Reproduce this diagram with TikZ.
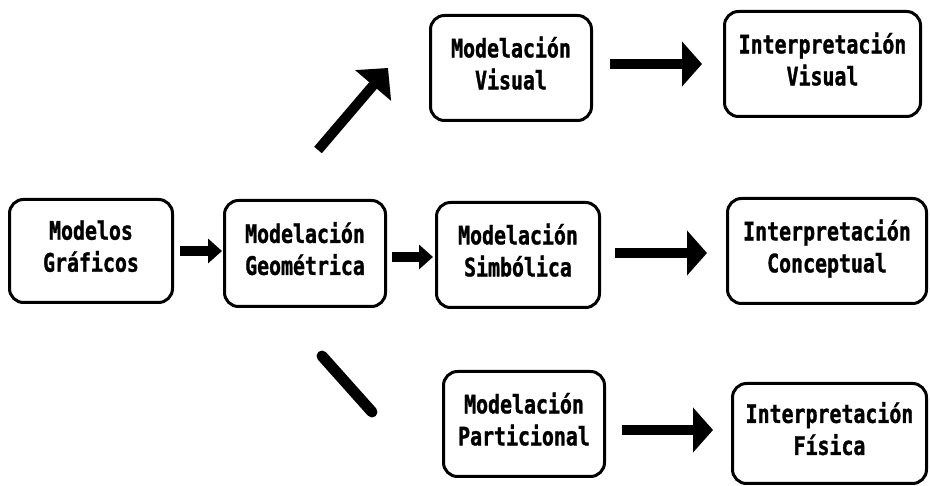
\documentclass[tikz,border=0pt]{standalone}
\usepackage{fontspec}
\newfontfamily\boxfont{DejaVu Sans Mono}[FakeStretch=0.78, BoldFeatures={FakeBold=1.2}]
\usetikzlibrary{arrows.meta}
\tikzset{
  box/.style={draw=black, line width=3pt, rounded corners=14pt, inner sep=0pt,
    text depth=10pt, align=center, font=\boxfont\bfseries\fontsize{25.5}{32}\selectfont},
  bigarrow/.style={line width=9.5pt, -{Triangle[length=20pt,width=44pt]}},
  smallarrow/.style={line width=9.5pt, -{Triangle[length=14pt,width=24pt]}},
}
\begin{document}
\begin{tikzpicture}[x=1pt, y=-1pt]
\useasboundingbox (0,0) rectangle (930,486);

% boxes
\node[box, minimum width=163pt, minimum height=103pt] (A) at (91,251) {Modelos\\Gráficos};
\node[box, minimum width=161pt, minimum height=106pt] (B) at (305,253.5) {Modelación\\Geométrica};
\node[box, minimum width=163pt, minimum height=105pt] (C) at (518,255) {Modelación\\Simbólica};
\node[box, minimum width=161pt, minimum height=105pt] (D) at (511,68) {Modelación\\Visual};
\node[box, minimum width=196pt, minimum height=105pt] (E) at (822.5,64) {Interpretación\\Visual};
\node[box, minimum width=199pt, minimum height=105pt] (F) at (827,251) {Interpretación\\Conceptual};
\node[box, minimum width=161pt, minimum height=105pt] (G) at (524,424) {Modelación\\Particional};
\node[box, minimum width=194pt, minimum height=100pt] (H) at (829.5,433.5) {Interpretación\\Física};

% horizontal connectors
\draw[smallarrow, shorten <=6pt, shorten >=1pt] (A.east) -- (A.east -| B.west);
\draw[smallarrow, shorten <=5pt, shorten >=2pt] ([yshift=-3.5pt]B.east) -- ([yshift=-3.5pt]B.east -| C.west);
\draw[bigarrow, shorten <=17pt, shorten >=21pt] (E.west -| D.east) -- (E.west);
\draw[bigarrow, shorten <=14pt, shorten >=19pt] ([yshift=2pt]C.east) -- ([yshift=2pt]C.east -| F.west);
\draw[bigarrow, shorten <=16pt, shorten >=18pt] ([yshift=-6pt]G.east) -- ([yshift=-6pt]G.east -| H.west);

% branches leaving the geometric modelling box
\coordinate (upTail) at (318,150);
\coordinate (upTip) at (388,68);
\coordinate (lowStart) at (322,356);
\coordinate (lowEnd) at (372,412);
\draw[line width=10pt, -{Triangle[length=23pt,width=46pt]}] (upTail) -- (upTip);
\draw[line width=11pt, line cap=round] (lowStart) -- (lowEnd);
\end{tikzpicture}
\end{document}
